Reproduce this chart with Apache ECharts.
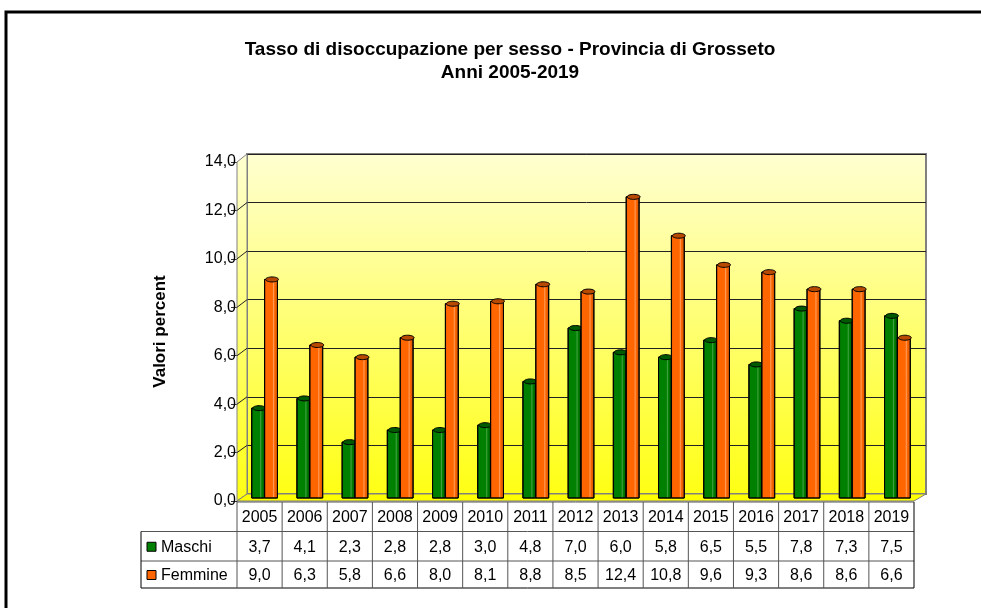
<!DOCTYPE html>
<html>
<head>
<meta charset="utf-8">
<script src="https://cdn.jsdelivr.net/npm/echarts@6/dist/echarts.min.js"></script>
<style>
html, body { margin: 0; padding: 0; background: #fff; }
#chart { width: 981px; height: 608px; }
</style>
</head>
<body>
<div id="chart"></div>
<script>
var anni = ['2005', '2006', '2007', '2008', '2009', '2010', '2011', '2012', '2013', '2014', '2015', '2016', '2017', '2018', '2019'];
var maschi = [3.7, 4.1, 2.3, 2.8, 2.8, 3.0, 4.8, 7.0, 6.0, 5.8, 6.5, 5.5, 7.8, 7.3, 7.5];
var femmine = [9.0, 6.3, 5.8, 6.6, 8.0, 8.1, 8.8, 8.5, 12.4, 10.8, 9.6, 9.3, 8.6, 8.6, 6.6];
var tickValori = [0, 2, 4, 6, 8, 10, 12, 14];

var FONT = 'Liberation Sans, Arial, sans-serif';
// front plane (axis + table), back wall, bars in between
var FRONT = { left: 237, top: 162, width: 677, height: 339 };
var BACK = { left: 247, top: 154, width: 679, height: 340 };
var BARS = { left: 242, top: 158, width: 678, height: 340 };
var RIGHE = [502, 531.5, 561, 588];
var LEGENDA_X = 141;

function virgola(v) {
    return v.toFixed(1).replace('.', ',');
}

var colVerde = { top: '#005a00', stops: ['#005800', '#008000', '#008000', '#3fa03f', '#008000', '#004a00'] };
var colArancio = { top: '#b84a00', stops: ['#d95600', '#ff6600', '#ff6600', '#ff9a55', '#ff6600', '#c24f00'] };

function cilindro(col, lato) {
    return function (params, api) {
        var base = api.coord([api.value(0), 0]);
        var cima = api.coord([api.value(0), api.value(1)]);
        var w = api.size([1, 0])[0] * 0.285;
        var x = lato < 0 ? base[0] - w : base[0];
        var pos = [0, 0.15, 0.6, 0.68, 0.76, 1];
        return {
            type: 'group',
            children: [
                {
                    type: 'rect',
                    shape: { x: x, y: cima[1], width: w, height: base[1] - cima[1] },
                    style: {
                        fill: {
                            type: 'linear', x: 0, y: 0, x2: 1, y2: 0,
                            colorStops: col.stops.map(function (c, i) { return { offset: pos[i], color: c }; })
                        },
                        stroke: '#000', lineWidth: 1
                    }
                },
                {
                    type: 'ellipse',
                    shape: { cx: x + w / 2 + 1, cy: cima[1], rx: w / 2, ry: 2.5 },
                    style: { fill: col.top, stroke: '#000', lineWidth: 1 }
                }
            ]
        };
    };
}

var chart = echarts.init(document.getElementById('chart'));

var muro = {
    type: 'linear', x: 0, y: 0, x2: 0, y2: 1,
    colorStops: [{ offset: 0, color: '#ffffd2' }, { offset: 1, color: '#ffff14' }]
};

chart.setOption({
    animation: false,
    backgroundColor: '#fff',
    title: {
        text: 'Tasso di disoccupazione per sesso - Provincia di Grosseto\nAnni 2005-2019',
        left: 505,
        top: 33,
        textAlign: 'center',
        textStyle: { fontFamily: FONT, fontSize: 19, fontWeight: 'bold', color: '#000', lineHeight: 23 }
    },
    grid: [
        { left: BACK.left, top: BACK.top, width: BACK.width, height: BACK.height, show: true,
          backgroundColor: muro, borderColor: '#808080', borderWidth: 2 },
        { left: FRONT.left, top: FRONT.top, width: FRONT.width, height: FRONT.height },
        { left: BARS.left, top: BARS.top, width: BARS.width, height: BARS.height }
    ],
    xAxis: [0, 1, 2].map(function (i) {
        return { type: 'category', gridIndex: i, data: anni, show: false };
    }),
    yAxis: [
        { gridIndex: 0, min: 0, max: 14, interval: 2, axisLine: { show: false }, axisTick: { show: false },
          axisLabel: { show: false }, splitLine: { lineStyle: { color: '#222', width: 1 } } },
        { gridIndex: 1, min: 0, max: 14, interval: 2,
          name: 'Valori percent', nameLocation: 'middle', nameGap: 68,
          nameTextStyle: { fontFamily: FONT, fontSize: 17, fontWeight: 'bold', color: '#000' },
          axisLine: { show: true, lineStyle: { color: '#333', width: 1 } },
          axisTick: { show: true, length: 6, lineStyle: { color: '#333' } },
          axisLabel: { margin: 1, fontFamily: FONT, fontSize: 16, color: '#000', formatter: function (v) { return virgola(v); } },
          splitLine: { show: false } },
        { gridIndex: 2, min: 0, max: 14, interval: 2, show: false, splitLine: { show: false } }
    ],
    series: [
        { name: 'Maschi', type: 'custom', xAxisIndex: 2, yAxisIndex: 2, z: 3,
          renderItem: cilindro(colVerde, -1),
          data: maschi.map(function (v, i) { return [i, v]; }) },
        { name: 'Femmine', type: 'custom', xAxisIndex: 2, yAxisIndex: 2, z: 3,
          renderItem: cilindro(colArancio, 1),
          data: femmine.map(function (v, i) { return [i, v]; }) }
    ]
});

// walls, floor, data table and frame
var g = [];
var yF = function (v) { return chart.convertToPixel({ yAxisIndex: 1 }, v); };
var yB = function (v) { return chart.convertToPixel({ yAxisIndex: 0 }, v); };
var fl = FRONT.left, bl = BACK.left, fr = FRONT.left + FRONT.width, br = BACK.left + BACK.width;

g.push({ type: 'polygon', z: 1, shape: { points: [[fl, yF(14)], [bl, yB(14)], [bl, yB(0)], [fl, yF(0)]] },
         style: { fill: muro, stroke: '#808080', lineWidth: 1 } });
g.push({ type: 'polygon', z: 1, shape: { points: [[fl, yF(0)], [bl, yB(0)], [br, yB(0)], [fr, yF(0)]] },
         style: { fill: '#ffff00', stroke: '#808080', lineWidth: 1 } });
tickValori.forEach(function (v) {
    if (v === 0 || v === 14) return;
    g.push({ type: 'line', z: 1, shape: { x1: fl, y1: yF(v), x2: bl, y2: yB(v) }, style: { stroke: '#222', lineWidth: 1 } });
});

var colW = FRONT.width / anni.length;
var nero = { stroke: '#000', lineWidth: 1 };
var grigio = { stroke: '#555', lineWidth: 1 };
g.push({ type: 'line', z: 5, shape: { x1: fl, y1: RIGHE[0], x2: fr, y2: RIGHE[0] }, style: grigio });
[1, 2, 3].forEach(function (r) {
    g.push({ type: 'line', z: 5, shape: { x1: LEGENDA_X, y1: RIGHE[r], x2: fr, y2: RIGHE[r] }, style: r === 3 ? nero : grigio });
});
g.push({ type: 'line', z: 5, shape: { x1: LEGENDA_X, y1: RIGHE[1], x2: LEGENDA_X, y2: RIGHE[3] }, style: nero });
for (var c = 0; c <= anni.length; c++) {
    var xc = fl + c * colW;
    g.push({ type: 'line', z: 5, shape: { x1: xc, y1: RIGHE[0], x2: xc, y2: RIGHE[3] }, style: c === anni.length ? nero : grigio });
}

var righe = [
    { valori: anni, fmt: function (v) { return v; } },
    { valori: maschi, fmt: virgola },
    { valori: femmine, fmt: virgola }
];
righe.forEach(function (riga, r) {
    var ym = (RIGHE[r] + RIGHE[r + 1]) / 2;
    riga.valori.forEach(function (v, i) {
        var xm = chart.convertToPixel({ xAxisIndex: 1 }, anni[i]);
        g.push({ type: 'text', z: 6, x: xm, y: ym + 1,
                 style: { text: riga.fmt(v), fill: '#000', font: '16px ' + FONT, align: 'center', verticalAlign: 'middle' } });
    });
});

[['Maschi', '#008000'], ['Femmine', '#ff6600']].forEach(function (s, r) {
    var ym = (RIGHE[r + 1] + RIGHE[r + 2]) / 2;
    g.push({ type: 'rect', z: 6, shape: { x: LEGENDA_X + 6, y: ym - 4, width: 9, height: 9 },
             style: { fill: s[1], stroke: '#000', lineWidth: 1 } });
    g.push({ type: 'text', z: 6, x: LEGENDA_X + 20, y: ym + 1,
             style: { text: s[0], fill: '#000', font: '16px ' + FONT, align: 'left', verticalAlign: 'middle' } });
});

g.push({ type: 'rect', z: 10, shape: { x: 6, y: 12, width: 1000, height: 700 },
         style: { fill: 'none', stroke: '#000', lineWidth: 3 } });

chart.setOption({ graphic: g });
</script>
</body>
</html>
